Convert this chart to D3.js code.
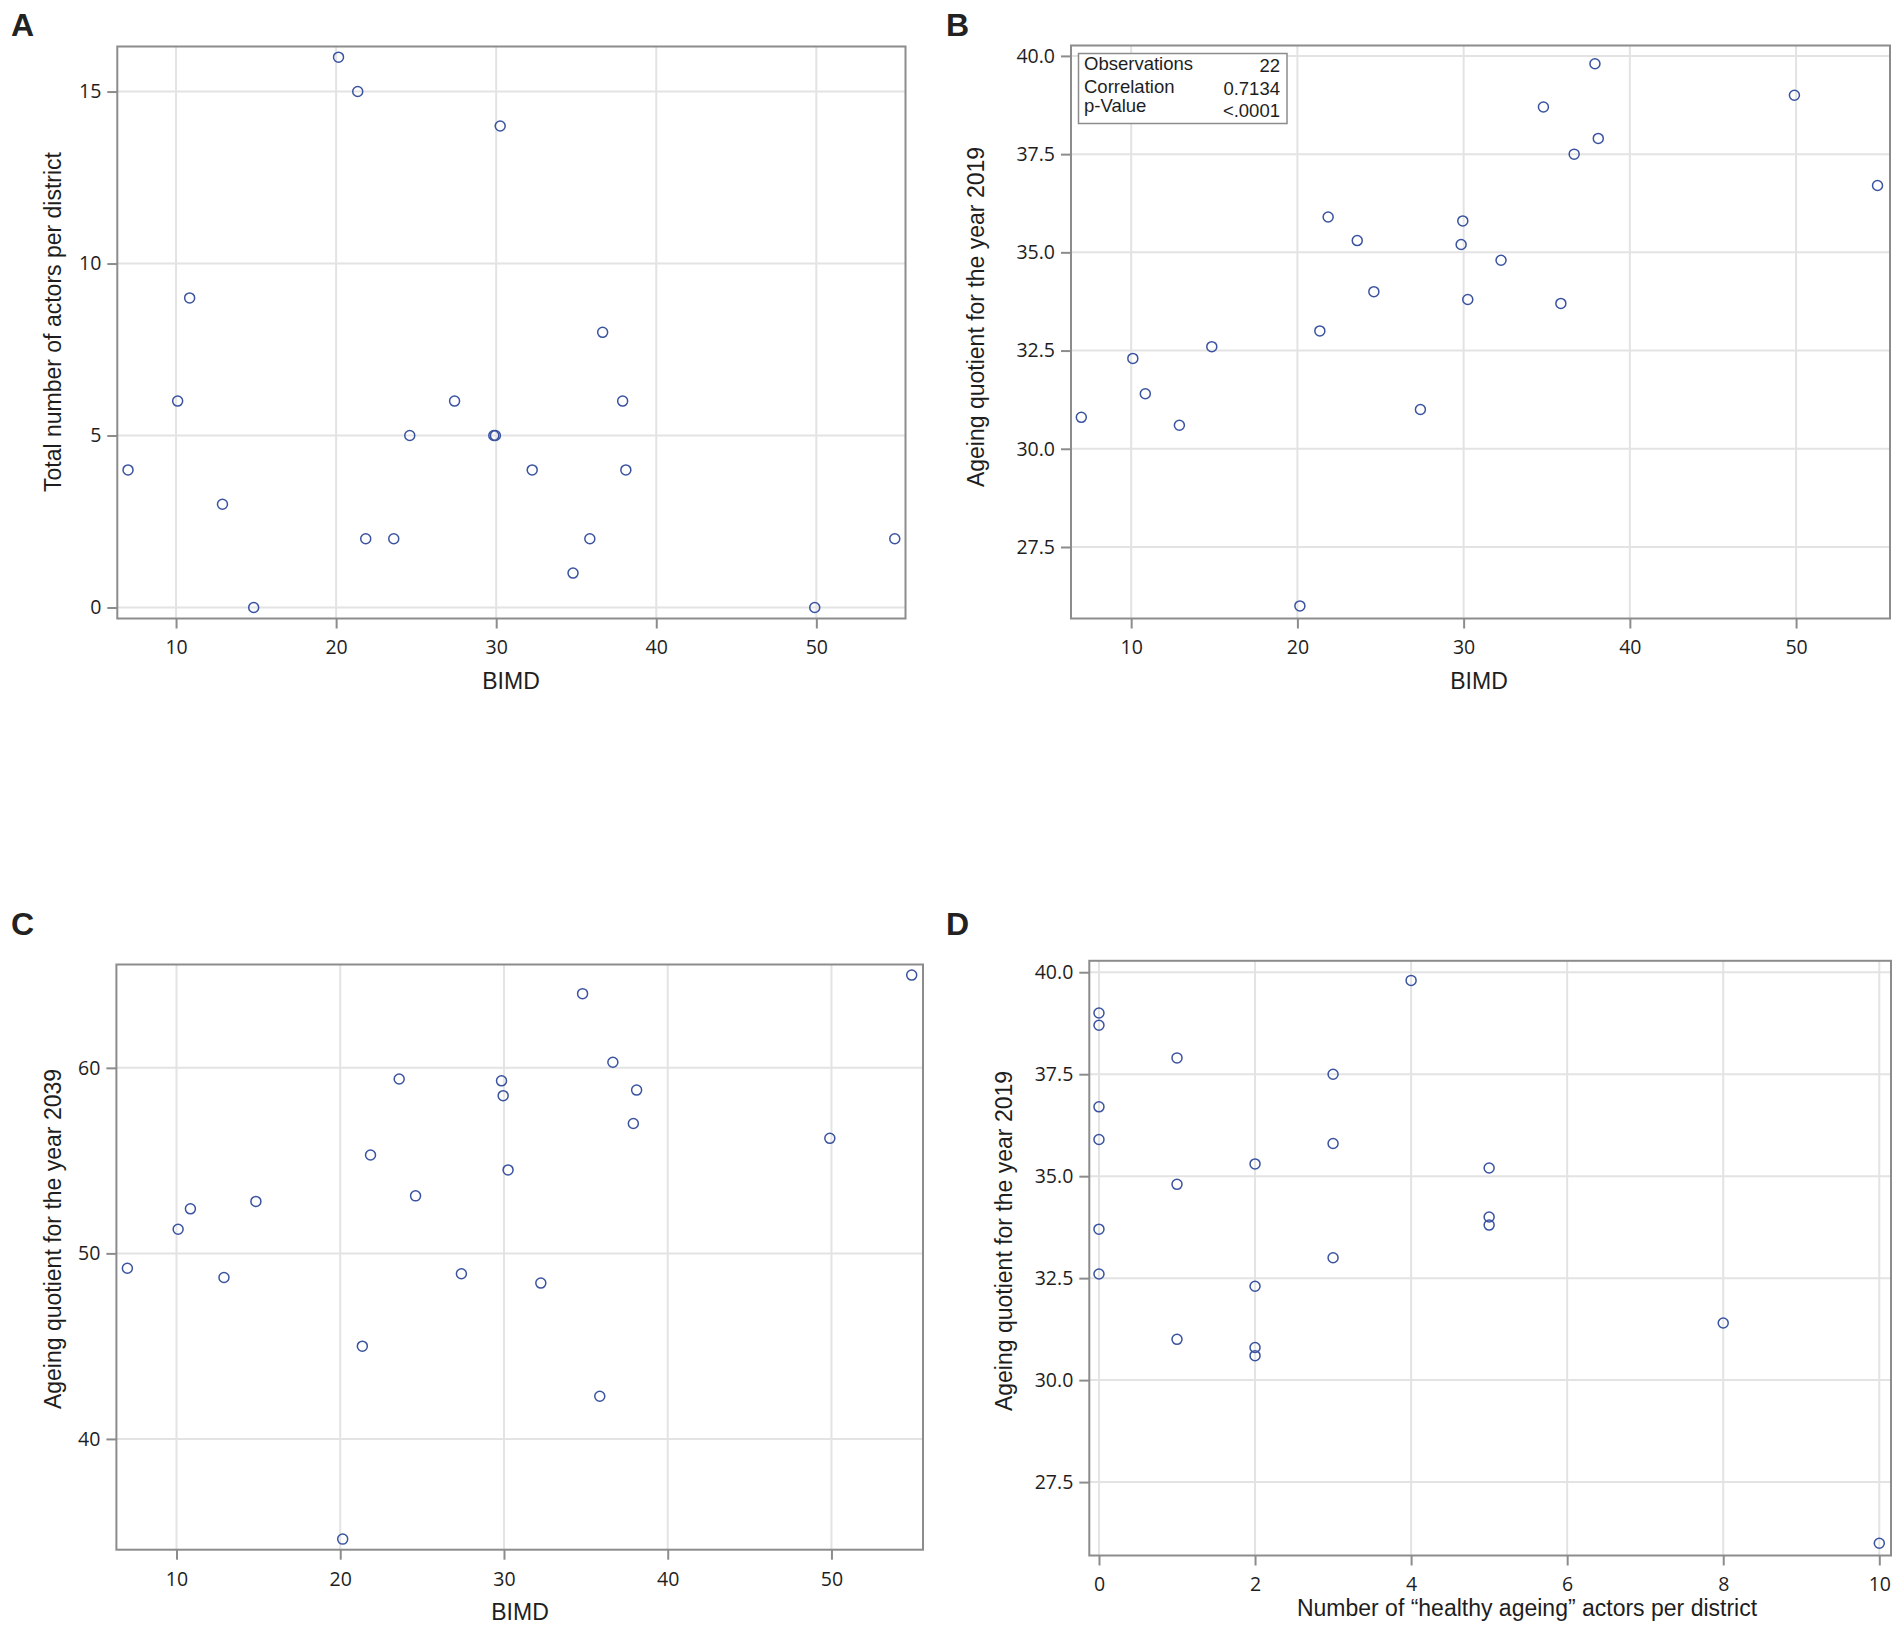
<!DOCTYPE html>
<html>
<head>
<meta charset="utf-8">
<script src="https://cdn.jsdelivr.net/npm/d3@7"></script>
<style>
  html, body { margin: 0; padding: 0; background: #fff; }
  svg { display: block; }
</style>
</head>
<body>
<svg id="chart" width="1902" height="1631"></svg>
<script>
// ---- Data (one entry per district, ordered by BIMD) ----
const bimd          = [7.0, 10.1, 10.85, 12.9, 14.85, 20.15, 21.35, 21.85, 23.6, 24.6, 27.4, 29.85, 29.95, 30.25, 32.25, 34.8, 35.85, 36.65, 37.9, 38.1, 49.9, 54.9];
const actorsTotal   = [4, 6, 9, 3, 0, 16, 15, 2, 2, 5, 6, 5, 5, 14, 4, 1, 2, 8, 6, 4, 0, 2];
const aq2019        = [30.8, 32.3, 31.4, 30.6, 32.6, 26.0, 33.0, 35.9, 35.3, 34.0, 31.0, 35.2, 35.8, 33.8, 34.8, 38.7, 33.7, 37.5, 39.8, 37.9, 39.0, 36.7];
const aq2039        = [49.2, 51.3, 52.4, 48.7, 52.8, 34.6, 45.0, 55.3, 59.4, 53.1, 48.9, 59.3, 58.5, 54.5, 48.4, 64.0, 42.3, 60.3, 57.0, 58.8, 56.2, 65.0];
const healthyActors = [2, 2, 8, 2, 0, 10, 3, 0, 2, 5, 1, 5, 3, 5, 1, 0, 0, 3, 4, 1, 0, 0];

// ---- Tick labels ----
const ticksBimd    = [10, 20, 30, 40, 50];
const ticksActors  = [0, 5, 10, 15];
const ticksAq2019  = [27.5, 30.0, 32.5, 35.0, 37.5, 40.0];
const ticksAq2039  = [40, 50, 60];
const ticksHealthy = [0, 2, 4, 6, 8, 10];

// ---- Inset statistics (panel B) ----
const statsLabels = ["Observations", "Correlation", "p-Value"];
const statsValues = ["22", "0.7134", "<.0001"];

const svg = d3.select("#chart");
const FRAME = "#8c8c8c", GRID = "#e3e3e3", MARK = "#3a53a0";
const TICKFONT = "'Open Sans', 'Noto Sans', sans-serif";
const LABFONT = "'Liberation Sans', Arial, sans-serif";

function panel(cfg) {
  const g = svg.append("g");
  const x = d3.scaleLinear().domain(cfg.xDomain).range([cfg.left, cfg.right]);
  const y = d3.scaleLinear().domain(cfg.yDomain).range([cfg.bottom, cfg.top]);

  // grid
  g.append("g").selectAll("line").data(cfg.xTicks).join("line")
    .attr("x1", d => x(d)).attr("x2", d => x(d))
    .attr("y1", cfg.top).attr("y2", cfg.bottom)
    .attr("stroke", GRID).attr("stroke-width", 2);
  g.append("g").selectAll("line").data(cfg.yTicks).join("line")
    .attr("y1", d => y(d)).attr("y2", d => y(d))
    .attr("x1", cfg.left).attr("x2", cfg.right)
    .attr("stroke", GRID).attr("stroke-width", 2);

  // axes
  const xa = g.append("g").attr("transform", `translate(0,${cfg.bottom})`)
    .call(d3.axisBottom(x).tickValues(cfg.xTicks).tickFormat(cfg.xFmt).tickSize(10).tickPadding(12));
  const ya = g.append("g").attr("transform", `translate(${cfg.left},0)`)
    .call(d3.axisLeft(y).tickValues(cfg.yTicks).tickFormat(cfg.yFmt).tickSize(10).tickPadding(6));
  [xa, ya].forEach(a => {
    a.select(".domain").remove();
    a.selectAll(".tick line").attr("stroke", FRAME).attr("stroke-width", 2);
    a.selectAll(".tick text").attr("fill", "#1e1e1e").style("font-family", TICKFONT).style("font-size", "19.5px");
  });

  // frame
  g.append("rect").attr("x", cfg.left).attr("y", cfg.top)
    .attr("width", cfg.right - cfg.left).attr("height", cfg.bottom - cfg.top)
    .attr("fill", "none").attr("stroke", FRAME).attr("stroke-width", 2);

  // points
  g.append("g").selectAll("circle").data(cfg.xs.map((v, i) => [v, cfg.ys[i]])).join("circle")
    .attr("cx", d => x(d[0])).attr("cy", d => y(d[1])).attr("r", 5)
    .attr("fill", "none").attr("stroke", MARK).attr("stroke-width", 1.5);

  // axis labels
  g.append("text").attr("x", cfg.xLabelX).attr("y", cfg.xLabelY)
    .attr("text-anchor", "middle").attr("fill", "#1e1e1e")
    .style("font-family", LABFONT).style("font-size", "23px").text(cfg.xLabel);
  g.append("text")
    .attr("transform", `translate(${cfg.yLabelX},${cfg.yLabelY}) rotate(-90)`)
    .attr("text-anchor", "middle").attr("dy", "0.35em").attr("fill", "#1e1e1e")
    .style("font-family", LABFONT).style("font-size", "23px").text(cfg.yLabel);

  // panel letter
  svg.append("text").attr("x", cfg.letterX).attr("y", cfg.letterY)
    .attr("fill", "#222").style("font-family", LABFONT).style("font-weight", "bold")
    .style("font-size", "32px").text(cfg.letter);
  return { g, x, y };
}

const f0 = d3.format("d"), f1 = d3.format(".1f");

panel({ letter: "A", letterX: 11, letterY: 36,
  left: 117.3, right: 905.5, top: 46.5, bottom: 618.5,
  xDomain: [6.33, 55.57], yDomain: [-0.32, 16.31],
  xTicks: ticksBimd, yTicks: ticksActors, xFmt: f0, yFmt: f0,
  xs: bimd, ys: actorsTotal,
  xLabel: "BIMD", xLabelX: 511, xLabelY: 689,
  yLabel: "Total number of actors per district", yLabelX: 53, yLabelY: 322 });

panel({ letter: "B", letterX: 946, letterY: 36,
  left: 1071, right: 1890, top: 45.5, bottom: 618.5,
  xDomain: [6.38, 55.65], yDomain: [25.68, 40.265],
  xTicks: ticksBimd, yTicks: ticksAq2019, xFmt: f0, yFmt: f1,
  xs: bimd, ys: aq2019,
  xLabel: "BIMD", xLabelX: 1479, xLabelY: 689,
  yLabel: "Ageing quotient for the year 2019", yLabelX: 976, yLabelY: 317 });

panel({ letter: "C", letterX: 11, letterY: 935,
  left: 116.4, right: 923, top: 964.5, bottom: 1549.7,
  xDomain: [6.33, 55.59], yDomain: [34.03, 65.57],
  xTicks: ticksBimd, yTicks: ticksAq2039, xFmt: f0, yFmt: f0,
  xs: bimd, ys: aq2039,
  xLabel: "BIMD", xLabelX: 520, xLabelY: 1620,
  yLabel: "Ageing quotient for the year 2039", yLabelX: 53, yLabelY: 1239 });

panel({ letter: "D", letterX: 946, letterY: 935,
  left: 1089.3, right: 1891, top: 960.8, bottom: 1555.5,
  xDomain: [-0.124, 10.15], yDomain: [25.7, 40.28],
  xTicks: ticksHealthy, yTicks: ticksAq2019, xFmt: f0, yFmt: f1,
  xs: healthyActors, ys: aq2019,
  xLabel: "Number of \u201chealthy ageing\u201d actors per district", xLabelX: 1527, xLabelY: 1616,
  yLabel: "Ageing quotient for the year 2019", yLabelX: 1004, yLabelY: 1241 });

// inset statistics box in panel B
const inset = svg.append("g");
inset.append("rect").attr("x", 1078.5).attr("y", 53.5).attr("width", 208.5).attr("height", 70)
  .attr("fill", "#fff").attr("stroke", FRAME).attr("stroke-width", 1.5);
const rowY = [70, 92.5, 111.5], valY = [71.5, 94.5, 116.5];
inset.selectAll("text.lab").data(statsLabels).join("text").attr("class", "lab")
  .attr("x", 1084).attr("y", (d, i) => rowY[i]).attr("fill", "#1e1e1e")
  .style("font-family", LABFONT).style("font-size", "18.5px").text(d => d);
inset.selectAll("text.val").data(statsValues).join("text").attr("class", "val")
  .attr("x", 1280).attr("y", (d, i) => valY[i]).attr("text-anchor", "end").attr("fill", "#1e1e1e")
  .style("font-family", LABFONT).style("font-size", "18.5px").text(d => d);
</script>
</body>
</html>
